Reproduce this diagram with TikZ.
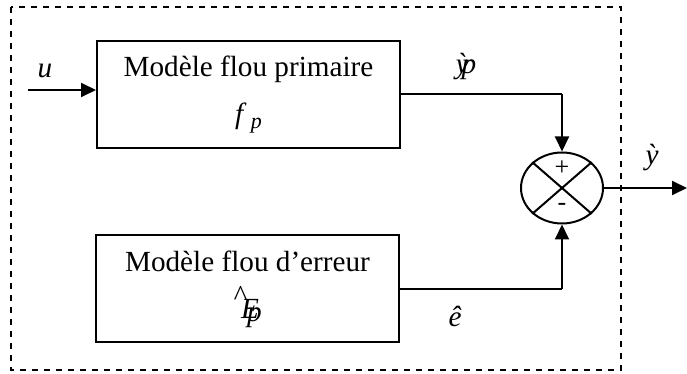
\documentclass[tikz,border=0pt]{standalone}
\usepackage{fontspec}
\setmainfont{Liberation Serif}
\usetikzlibrary{arrows.meta,positioning,shapes.geometric}

\begin{document}
\begin{tikzpicture}[
  x=0.5pt, y=-0.5pt,
  box/.style={draw, line width=1pt, minimum width=151.5pt, minimum height=53.5pt,
              align=center, font=\fontsize{14.6}{23.5}\selectfont},
  sig/.style={font=\fontsize{14.6}{17}\selectfont\itshape},
  pm/.style={font=\fontsize{13}{14}\selectfont, inner sep=0pt},
  ar/.style={line width=1pt, -{Triangle[length=7.5pt,width=7pt]}},
  ln/.style={line width=1pt},
]
\useasboundingbox (0,0) rectangle (687,374);
% Frame
\draw[dashed, line width=0.6pt] (11,7) rectangle (621,370);

% Blocks
\node[box] (prim) at (248.5,94.5) {Modèle flou primaire\\\textit{f}\kern0.15em\raisebox{-0.2em}{\fontsize{11}{12}\selectfont\textit{p}}};
\node[box] (err) at (247.5,289) {Modèle flou d’erreur\\\textit{\raisebox{0.45em}{\^{}}\kern-0.15em E\kern-0.4em\raisebox{-0.1em}{p}}};
\node[draw, ellipse, line width=1pt, minimum width=41pt, minimum height=35.5pt, inner sep=0pt] (sum) at (562,188) {};
\draw[ln] (sum.north west) -- (sum.south east);
\draw[ln] (sum.north east) -- (sum.south west);
\node[pm] (plus) at (562,168) {+};
\node[pm] (minus) at (562,207) {-};

% Signals
\coordinate (in) at (28,90);
\coordinate (out) at (687,188);
\draw[ar] (in) -- (prim.west |- in);
\draw[ln] (prim.east) -- (sum |- prim.east);
\draw[ar] (sum |- prim.east) -- (sum.north);
\draw[ln] (err.east) -- (sum |- err.east);
\draw[ar] (sum |- err.east) -- (sum.south);
\draw[ar] (sum.east) -- (out);

% Labels
\node[sig] (lu) at (45,71) {u};
\node[sig] (lyp) at (466,67) {\`y\kern-0.25em p};
\node[sig] (le) at (455,316) {ê};
\node[sig] (ly) at (652,158) {\`y};
\end{tikzpicture}
\end{document}
